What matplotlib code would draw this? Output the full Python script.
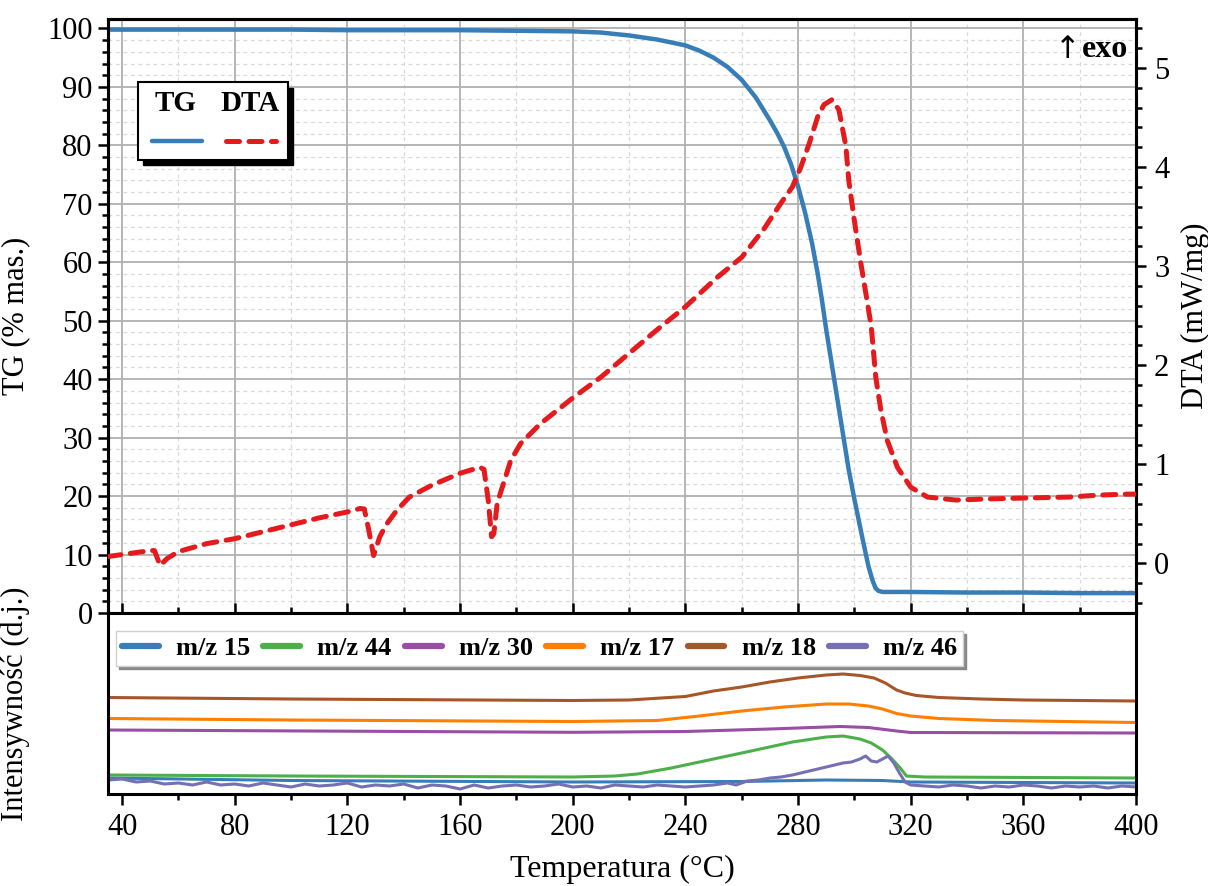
import matplotlib
matplotlib.use("Agg")
import matplotlib.pyplot as plt
from matplotlib.ticker import MultipleLocator, NullLocator
from matplotlib.patches import Rectangle
from matplotlib.lines import Line2D

plt.rcParams['font.family'] = ['Liberation Serif', 'DejaVu Sans']

# ---------------- data ----------------
tg_T = [35, 40, 60, 80, 100, 120, 140, 160, 180, 200, 210, 220, 230, 240, 245, 250, 255, 260,
        265, 270, 272.5, 275, 277.5, 280, 282.5, 285, 287, 288.5, 290, 292, 295, 298, 300,
        303, 305, 306.5, 307.5, 308.5, 310, 320, 340, 360, 380, 400]
tg_val = [99.8, 99.8, 99.8, 99.8, 99.8, 99.7, 99.7, 99.7, 99.6, 99.5, 99.3, 98.8, 98.1, 97.1,
          96.2, 95.0, 93.4, 91.2, 88.2, 84.3, 82.2, 79.8, 76.8, 73.0, 68.5, 63.2, 58.0, 53.5,
          48.5, 42.5, 33.5, 24.5, 19.5, 12.5, 8.0, 5.5, 4.3, 3.8, 3.6, 3.6, 3.5, 3.5, 3.4, 3.4]

dta_T = [35, 40, 45, 50, 51.5, 53.5, 56, 60, 70, 80, 90, 100, 110, 120, 124.5, 126, 127.5,
         129.3, 131.5, 134, 137.5, 142, 150, 160, 167, 168.5, 170, 171.2, 172, 173.2, 175,
         178, 181.5, 188.5, 200, 210, 220, 230, 240, 251, 260, 268, 274, 278, 281, 284, 287,
         289.2, 292, 294.5, 297, 298, 300, 302.3, 304.7, 306, 307.6, 309.4, 311.7, 315.3,
         320, 326, 336, 346, 360, 376, 387, 397, 400]
dta_val = [0.07, 0.09, 0.11, 0.13, 0.13, -0.02, 0.05, 0.12, 0.20, 0.25, 0.32, 0.39, 0.46,
           0.52, 0.555, 0.55, 0.35, 0.08, 0.27, 0.40, 0.535, 0.67, 0.79, 0.91, 0.97, 0.95,
           0.64, 0.27, 0.30, 0.61, 0.77, 1.04, 1.21, 1.41, 1.67, 1.88, 2.12, 2.36, 2.59, 2.88,
           3.09, 3.38, 3.64, 3.80, 4.00, 4.24, 4.51, 4.63, 4.68, 4.58, 4.21, 3.87, 3.46, 3.03,
           2.62, 2.39, 1.88, 1.55, 1.24, 0.97, 0.77, 0.67, 0.64, 0.65, 0.66, 0.67, 0.69, 0.70,
           0.70]

ms18_T = [35, 100, 200, 220, 240, 250, 260, 270, 280, 290, 296, 302, 307, 311, 315, 318, 322,
          330, 345, 360, 380, 400]
ms18 = [102.5, 101, 99.5, 100, 103.5, 109, 113, 118, 122, 125, 126, 124.5, 122, 117, 110, 107,
        104.5, 102.5, 101, 100, 99.5, 99]

ms17_T = [35, 100, 200, 230, 245, 260, 275, 290, 298, 305, 310, 315, 320, 330, 350, 400]
ms17 = [81.5, 80, 78.5, 79.5, 84, 89, 93, 96, 96, 94, 91, 86.5, 84, 81.5, 79.5, 77.5]

ms30_T = [35, 200, 240, 270, 295, 305, 315, 320, 400]
ms30 = [70, 67.7, 68.5, 71, 73.5, 72.5, 69, 67.5, 67]

ms44_T = [35, 100, 200, 215, 223, 235, 245, 255, 265, 278, 290, 296, 302, 306, 310, 313, 316,
          318.5, 325, 400]
ms44 = [25, 24, 23, 24, 26, 32, 38, 44, 50, 58, 63, 64, 61, 57, 50, 42, 33, 24, 23, 22]

ms15_T = [35, 100, 200, 260, 290, 310, 320, 400]
ms15 = [22, 19.5, 18, 18.5, 20, 19.5, 18, 17]

ms46_T = [35, 40, 45, 50, 55, 60, 65, 70, 75, 80, 85, 90, 95, 100, 105, 110, 115, 120, 125,
          130, 135, 140, 145, 150, 155, 160, 165, 170, 175, 180, 185, 190, 195, 200, 205,
          210, 215, 220, 225, 230, 235, 240, 245, 250, 255, 258, 262, 266, 270, 274, 278,
          281, 284, 287, 290, 293, 296, 299, 302, 304, 306, 308, 310, 312, 314, 316, 318,
          320, 325, 330, 335, 340, 345, 350, 355, 360, 365, 370, 375, 380, 385, 390, 395, 400]
ms46 = [20, 21, 18, 19, 16, 17, 15, 18, 15, 16, 14, 17, 15, 13, 16, 14, 15, 17, 13, 15, 14,
        16, 12, 15, 14, 11, 15, 12, 14, 15, 13, 14, 16, 13, 14, 12, 15, 14, 13, 15, 14, 13,
        14, 15, 17, 15, 19, 20, 22, 23, 25, 27, 29, 31, 33, 35, 37, 38, 41, 44, 39, 38, 41,
        44, 37, 27, 18, 15, 14, 13, 15, 14, 12, 14, 13, 15, 14, 12, 14, 13, 14, 12, 14, 13]

ms_series = [("m/z 15", ms15_T, ms15, "#377eb8"),
             ("m/z 44", ms44_T, ms44, "#4daf4a"),
             ("m/z 30", ms30_T, ms30, "#984ea3"),
             ("m/z 17", ms17_T, ms17, "#ff7f00"),
             ("m/z 18", ms18_T, ms18, "#a65628"),
             ("m/z 46", ms46_T, ms46, "#7570b3")]

# ---------------- figure ----------------
W, H = 1208, 886
fig = plt.figure(figsize=(W / 100, H / 100), dpi=100)
L, R = 108 / W, 1136 / W
top_y0, top_y1 = 1 - 613 / H, 1 - 18.5 / H
bot_y0 = 1 - 794 / H
ax = fig.add_axes([L, top_y0, R - L, top_y1 - top_y0])
axb = fig.add_axes([L, bot_y0, R - L, top_y0 - bot_y0], sharex=ax)
ax2 = ax.twinx()

TICK = 22
LAB = 22

# TG
ax.plot(tg_T, tg_val, color="#377eb8", lw=3.2, solid_capstyle='round', zorder=3)
ax.set_xlim(35, 400)
ax.set_ylim(0, 101.7)
ax.yaxis.set_major_locator(MultipleLocator(10))
ax.yaxis.set_minor_locator(MultipleLocator(2))
ax.xaxis.set_major_locator(MultipleLocator(40))
ax.xaxis.set_minor_locator(MultipleLocator(20))
ax.grid(which='major', color='#b0b0b0', lw=1.3, ls='-')
ax.grid(which='minor', color='#d9d9d9', lw=0.9, ls=(0, (3, 3)))
ax.set_axisbelow(True)
ax.tick_params(axis='y', which='major', direction='out', length=7, width=1.8, labelsize=TICK, pad=4)
ax.tick_params(axis='y', which='minor', direction='out', length=4, width=1.8)
ax.tick_params(axis='x', which='major', direction='inout', length=14, width=1.8, labelbottom=False)
ax.tick_params(axis='x', which='minor', direction='inout', length=8, width=1.8)
ax.set_ylabel("TG (% mas.)", fontsize=LAB)

# DTA
ax2.plot(dta_T, dta_val, color="#e41a1c", lw=3.6, ls=(0, (2.6, 1.9)), dash_capstyle='round', zorder=3)
ax2.set_ylim(-0.5, 5.5)
ax2.yaxis.set_major_locator(MultipleLocator(1))
ax2.yaxis.set_minor_locator(MultipleLocator(0.2))
ax2.tick_params(axis='y', which='major', direction='out', length=7, width=1.8, labelsize=TICK, pad=6)
ax2.tick_params(axis='y', which='minor', direction='out', length=4, width=1.8)
ax2.set_ylabel("DTA (mW/mg)", fontsize=LAB)
ax2.yaxis.set_label_coords(1.0435, 0.5)

for a in (ax, ax2, axb):
    for s in a.spines.values():
        s.set_linewidth(2.2)
        s.set_color('black')

# top legend (manual, TG above line, DTA above line)
tr = ax2.transAxes
x0, x1, yb, yt = 0.0292, 0.175, 0.7613, 0.8924
ax2.add_patch(Rectangle((x0 + 0.005, yb - 0.0085), x1 - x0, yt - yb, transform=tr,
                        facecolor='black', edgecolor='black', zorder=9, clip_on=False))
ax2.add_patch(Rectangle((x0, yb), x1 - x0, yt - yb, transform=tr,
                        facecolor='white', edgecolor='black', lw=1.5, zorder=10, clip_on=False))
ax2.text(0.0652, 0.857, "TG", transform=tr, ha='center', va='center', fontsize=21,
         fontweight='bold', zorder=11)
ax2.text(0.138, 0.857, "DTA", transform=tr, ha='center', va='center', fontsize=21,
         fontweight='bold', zorder=11)
ax2.add_line(Line2D([0.0428, 0.0914], [0.7933, 0.7933], transform=tr, color="#377eb8",
                    lw=3.2, solid_capstyle='round', zorder=11))
ax2.add_line(Line2D([0.1148, 0.1634], [0.7933, 0.7933], transform=tr, color="#e41a1c",
                    lw=3.6, ls=(0, (2.6, 1.9)), dash_capstyle='round', zorder=11))

# exo marker
ax2.text(0.992, 0.935, "exo", transform=tr, ha='right', va='baseline', fontsize=23,
         fontweight='bold', zorder=11)
ax2.text(0.946, 0.933, "\u2191", transform=tr, ha='right', va='baseline', fontsize=22,
         family=['DejaVu Sans'], zorder=11)

# MS panel
for name, t, v, c in ms_series:
    axb.plot(t, v, color=c, lw=2.2, label=name)
axb.set_ylim(6, 187)
axb.yaxis.set_major_locator(NullLocator())
axb.yaxis.set_minor_locator(NullLocator())
axb.tick_params(axis='x', which='major', direction='out', length=8, width=1.8, labelsize=TICK, pad=6)
axb.tick_params(axis='x', which='minor', direction='out', length=4, width=1.8)
axb.spines['top'].set_visible(False)
axb.set_ylabel("Intensywność (d.j.)", fontsize=LAB)
axb.set_xlabel("Temperatura (\u00b0C)", fontsize=23, labelpad=9)
leg = axb.legend(loc='upper left', bbox_to_anchor=(0.0, 0.945), ncol=6, frameon=True,
                 fancybox=False, shadow={'color': '#888888', 'alpha': 1.0},
                 prop={'weight': 'bold', 'size': 19}, handlelength=1.4, handletextpad=0.65,
                 columnspacing=0.5, borderpad=0.22, borderaxespad=0.3)
leg.get_frame().set_edgecolor('#d0d0d0')
leg.get_frame().set_linewidth(1.0)
for ln in leg.get_lines():
    ln.set_linewidth(4.5)
    ln.set_solid_capstyle('round')

# align y labels
ax.yaxis.set_label_coords(-0.076, 0.5)
axb.yaxis.set_label_coords(-0.076, 0.5)

fig.savefig("out.png", dpi=100)
